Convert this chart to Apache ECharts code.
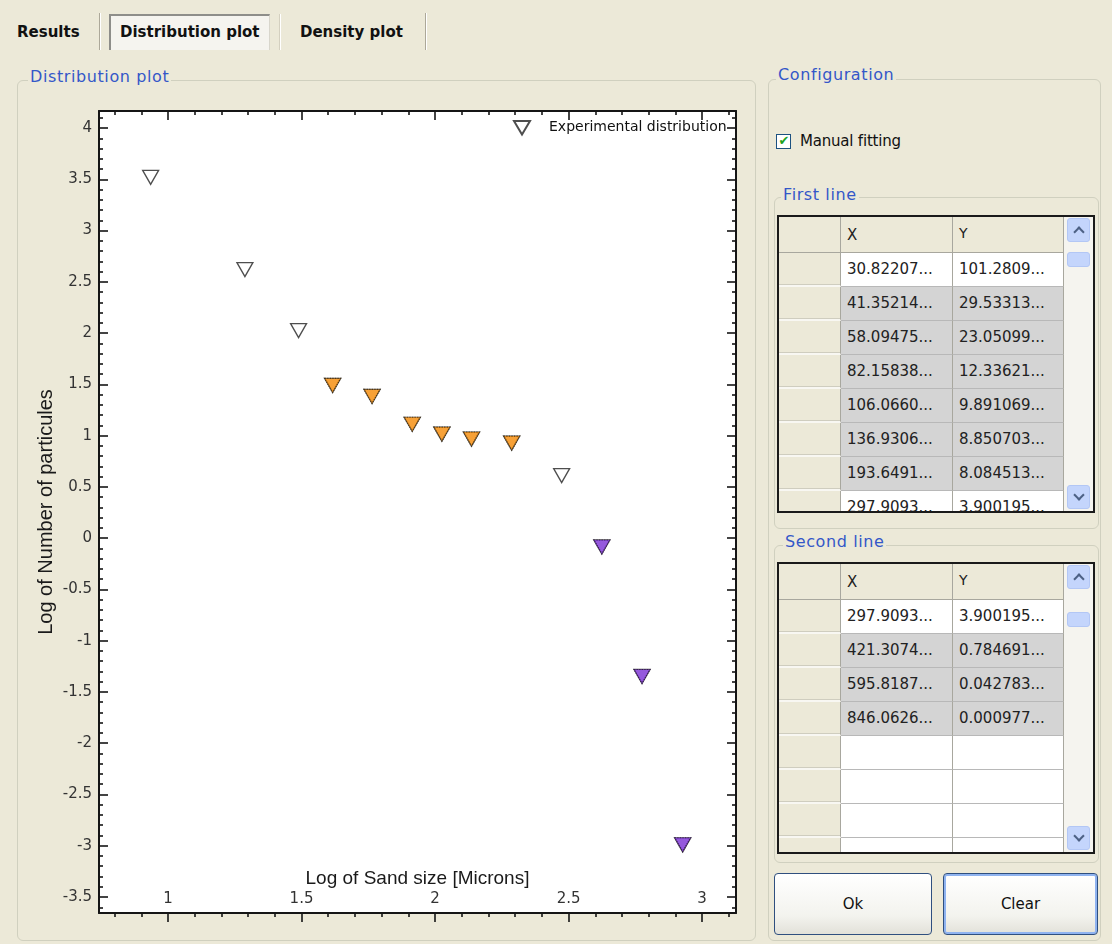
<!DOCTYPE html>
<html>
<head>
<meta charset="utf-8">
<script src="https://cdn.jsdelivr.net/npm/echarts@6/dist/echarts.min.js"></script>
<style>
  html, body { margin:0; padding:0; }
  body { width:1112px; height:944px; background:#ECE9D8; position:relative; overflow:hidden; font-family:"DejaVu Sans", sans-serif; }
  .abs { position:absolute; }
  .tab { position:absolute; font-weight:bold; font-size:15px; color:#111; line-height:20px; }
  .sep { position:absolute; width:1px; background:#ACA899; border-right:1px solid #fff; }
  .gbox { position:absolute; border:1px solid #D0D0BF; border-radius:6px; box-sizing:border-box; }
  .gtitle { position:absolute; background:#ECE9D8; color:#3457C8; font-size:16px; letter-spacing:0.6px; padding:0 2px; line-height:20px; white-space:nowrap; }
  .tbl { position:absolute; border:2px solid #1a1a1a; box-sizing:border-box; background:#fff; overflow:hidden; }
  .cell { position:absolute; box-sizing:border-box; font-size:15px; color:#222; padding-left:6px; white-space:nowrap; overflow:hidden; }
  .btn { position:absolute; box-sizing:border-box; border-radius:4px; background:linear-gradient(#FFFFFF, #F3F3EE 70%, #E2E1D9); font-size:15px; color:#111; text-align:center; }
  .sbtn { position:absolute; width:23px; height:24px; border-radius:3px; background:#C4D5FC; border:1px solid #B3C7F5; box-sizing:border-box; }
  .sbtn span { position:absolute; left:7px; width:6px; height:6px; border-left:2px solid #4D6185; border-top:2px solid #4D6185; }
  #chart { position:absolute; left:0; top:0; width:1112px; height:944px; }
</style>
</head>
<body>
<div id="ui"></div>
<div id="chart"></div>
<script>
// ---------------- data ----------------
const seriesNames = ['Experimental distribution', 'First line', 'Second line'];
// log10 of sand size (microns) and log10 of number of particles
const expLogSize  = [0.935, 1.288, 1.4889, 1.6165, 1.7641, 1.9146, 2.0256, 2.1365, 2.2870, 2.4741, 2.6246, 2.7751, 2.9274];
const expLogCount = [3.500, 2.600, 2.0055, 1.4703, 1.3627, 1.0912, 0.9952, 0.9470, 0.9077, 0.5911, -0.1053, -1.3687, -3.0101];
const firstLogSize  = [1.6165, 1.7641, 1.9146, 2.0256, 2.1365, 2.2870];
const firstLogCount = [1.4703, 1.3627, 1.0912, 0.9952, 0.9470, 0.9077];
const secondLogSize  = [2.6246, 2.7751, 2.9274];
const secondLogCount = [-0.1053, -1.3687, -3.0101];
const xTickValues = [1, 1.5, 2, 2.5, 3];
const yTickValues = [-3.5, -3, -2.5, -2, -1.5, -1, -0.5, 0, 0.5, 1, 1.5, 2, 2.5, 3, 3.5, 4];
const xAxisTitle = 'Log of Sand size [Microns]';
const yAxisTitle = 'Log of Number of particules';
// table contents
const firstLineX = ['30.82207...', '41.35214...', '58.09475...', '82.15838...', '106.0660...', '136.9306...', '193.6491...', '297.9093...'];
const firstLineY = ['101.2809...', '29.53313...', '23.05099...', '12.33621...', '9.891069...', '8.850703...', '8.084513...', '3.900195...'];
const secondLineX = ['297.9093...', '421.3074...', '595.8187...', '846.0626...', '', '', '', ''];
const secondLineY = ['3.900195...', '0.784691...', '0.042783...', '0.000977...', '', '', '', ''];
const tabLabels = ['Results', 'Distribution plot', 'Density plot'];

// ---------------- UI chrome ----------------
const ui = document.getElementById('ui');
function el(cls, style, text) {
  const d = document.createElement('div');
  if (cls) d.className = cls;
  Object.assign(d.style, style);
  if (text !== undefined) d.textContent = text;
  ui.appendChild(d);
  return d;
}
function px(v) { return v + 'px'; }

// tabs
el('sep', {left:'99px', top:'13px', height:'37px'});
el('abs', {left:'109px', top:'14px', width:'161px', height:'36px', background:'#F5F4EF', borderTop:'2px solid #8E8E8A', borderLeft:'2px solid #8E8E8A', borderRight:'1px solid #D8D6CC', boxSizing:'border-box'});
el('sep', {left:'279px', top:'14px', height:'36px', background:'#D4D0C0'});
el('sep', {left:'425px', top:'13px', height:'37px'});
el('tab', {left:'17px', top:'22px'}, tabLabels[0]);
el('tab', {left:'120px', top:'22px'}, tabLabels[1]);
el('tab', {left:'300px', top:'22px'}, tabLabels[2]);

// group boxes
el('gbox', {left:'17px', top:'80px', width:'739px', height:'861px'});
el('gtitle', {left:'28px', top:'67px'}, 'Distribution plot');
el('gbox', {left:'768px', top:'79px', width:'333px', height:'862px'});
el('gtitle', {left:'776px', top:'65px'}, 'Configuration');

// checkbox
el('abs', {left:'776px', top:'134px', width:'15px', height:'15px', border:'1px solid #1C5180', background:'#fff', boxSizing:'border-box'});
el('abs', {left:'777px', top:'131px', width:'14px', height:'18px', color:'#21A121', fontSize:'13px', lineHeight:'20px', textAlign:'center', fontWeight:'bold'}, '\u2714');
el('abs', {left:'800px', top:'131px', fontSize:'15px', color:'#111', lineHeight:'20px', letterSpacing:'-0.2px'}, 'Manual fitting');

// First line group
el('gbox', {left:'774px', top:'197px', width:'325px', height:'332px'});
el('gtitle', {left:'781px', top:'185px'}, 'First line');
// Second line group
el('gbox', {left:'774px', top:'545px', width:'325px', height:'318px'});
el('gtitle', {left:'783px', top:'532px'}, 'Second line');

function makeTable(top, bottom, xs, ys, whiteRows, thumbTop) {
  const L = 777;
  const t = el('tbl', {left:px(L), top:px(top), width:'318px', height:px(bottom - top)});
  const inner = (cls, style, text) => {
    const d = document.createElement('div');
    d.className = cls; Object.assign(d.style, style);
    if (text !== undefined) d.textContent = text;
    t.appendChild(d); return d;
  };
  const headH = 36, rowH = 34;
  inner('cell', {left:'0px', top:'0px', width:'62px', height:px(headH), background:'#ECE9D8', borderRight:'1px solid #A8A79E', borderBottom:'1px solid #A8A79E'});
  inner('cell', {left:'62px', top:'0px', width:'112px', height:px(headH), background:'#ECE9D8', borderRight:'1px solid #A8A79E', borderBottom:'1px solid #A8A79E', lineHeight:px(headH), fontSize:'15px'}, 'X');
  inner('cell', {left:'174px', top:'0px', width:'111px', height:px(headH), background:'#ECE9D8', borderRight:'1px solid #A8A79E', borderBottom:'1px solid #A8A79E', lineHeight:px(headH - 4), fontSize:'14px'}, 'Y');
  inner('cell', {left:'285px', top:'0px', width:'30px', height:px(bottom - top), background:'#F5F4EF'});
  const n = xs.length;
  for (let i = 0; i < n; i++) {
    const y = headH + i * rowH;
    const bg = whiteRows.indexOf(i) >= 0 ? '#FFFFFF' : '#D4D4D4';
    inner('cell', {left:'0px', top:px(y), width:'62px', height:px(rowH), background:'#ECE9D8', borderRight:'1px solid #A8A79E', borderBottom:'2px solid #F8F7F2', boxShadow:'inset 0 -3px 0 -2px #CFCDBF'});
    inner('cell', {left:'62px', top:px(y), width:'112px', height:px(rowH), background:bg, borderRight:'1px solid #A8A79E', borderBottom:'1px solid #B8B8B8', lineHeight:px(rowH - 1)}, xs[i]);
    inner('cell', {left:'174px', top:px(y), width:'111px', height:px(rowH), background:bg, borderRight:'1px solid #A8A79E', borderBottom:'1px solid #B8B8B8', lineHeight:px(rowH - 1)}, ys[i]);
  }
  const up = el('sbtn', {left:'1067px', top:px(top + 3)});
  const upc = document.createElement('span'); upc.style.top = '9px'; upc.style.transform = 'rotate(45deg)'; up.appendChild(upc);
  const dn = el('sbtn', {left:'1067px', top:px(bottom - 28)});
  const dnc = document.createElement('span'); dnc.style.top = '5px'; dnc.style.transform = 'rotate(225deg)'; dn.appendChild(dnc);
  el('sbtn', {left:'1067px', top:px(thumbTop), height:'15px'});
}
makeTable(215, 513, firstLineX, firstLineY, [0, 7], 252);
makeTable(562, 854, secondLineX, secondLineY, [0, 4, 5, 6, 7], 612);

// buttons
el('btn', {left:'774px', top:'873px', width:'158px', height:'62px', border:'1px solid #2F4F7F', lineHeight:'60px'}, 'Ok');
el('btn', {left:'943px', top:'873px', width:'155px', height:'62px', border:'1px solid #2F4F7F', boxShadow:'inset 0 0 0 2px #8FB3F0', lineHeight:'60px'}, 'Clear');

// ---------------- chart ----------------
function minorTicks(min, max, step, majors) {
  const out = [];
  const start = Math.ceil(min / step - 1e-9);
  const end = Math.floor(max / step + 1e-9);
  for (let k = start; k <= end; k++) {
    const v = Math.round(k * step * 1000) / 1000;
    if (majors.indexOf(v) < 0) out.push(v);
  }
  return out;
}
const xMin = 0.7416, xMax = 3.127, yMin = -3.656, yMax = 4.166;
const xMinor = minorTicks(xMin, xMax, 0.1, xTickValues);
const yMinor = minorTicks(yMin, yMax, 0.1, yTickValues);
const lineColor = '#151515';
const labelFont = 'Liberation Sans';
const tickLabelStyle = {fontFamily:'DejaVu Sans', fontSize:15, color:'#333'};

function xAxisDef(pos, values, len, inside, showLine, extra) {
  return Object.assign({
    type:'value', position:pos, min:xMin, max:xMax, gridIndex:0,
    axisLine:{show:showLine, onZero:false, lineStyle:{color:lineColor, width:2}},
    axisTick:{show:true, inside:inside, length:len, customValues:values, lineStyle:{color:lineColor, width:1.6}},
    axisLabel:{show:false},
    splitLine:{show:false}, minorTick:{show:false}, minorSplitLine:{show:false}
  }, extra || {});
}
function yAxisDef(pos, values, len, inside, showLine, extra) {
  return Object.assign({
    type:'value', position:pos, min:yMin, max:yMax, gridIndex:0,
    axisLine:{show:showLine, onZero:false, lineStyle:{color:lineColor, width:2}},
    axisTick:{show:true, inside:inside, length:len, customValues:values, lineStyle:{color:lineColor, width:1.6}},
    axisLabel:{show:false},
    splitLine:{show:false}, minorTick:{show:false}, minorSplitLine:{show:false}
  }, extra || {});
}

const triangle = 'path://M0,0L20,0L10,17Z';
const chart = echarts.init(document.getElementById('chart'), null, {renderer:'canvas'});
chart.setOption({
  backgroundColor:'transparent',
  animation:false,
  textStyle:{fontFamily:'DejaVu Sans'},
  grid:{left:99, top:111, width:637, height:802, show:true, backgroundColor:'#FFFFFF', borderWidth:0, containLabel:false, outerBoundsMode:'none'},
  legend:{
    data:[seriesNames[0]], left:508, top:115, itemWidth:16, itemHeight:14, selectedMode:false,
    textStyle:{fontFamily:'DejaVu Sans', fontSize:14, color:'#111', padding:[0,0,0,14]}
  },
  xAxis:[
    xAxisDef('bottom', xTickValues, 9, false, true, {
      axisLabel:Object.assign({show:true, inside:true, customValues:xTickValues, margin:6, formatter:v => String(v)}, tickLabelStyle),
      name:xAxisTitle, nameLocation:'middle', nameGap:-44, nameMoveOverlap:false,
      nameTextStyle:{fontFamily:labelFont, fontSize:19, color:'#1a1a1a'}
    }),
    xAxisDef('bottom', xMinor, 4, false, false),
    xAxisDef('top', xTickValues, 9, true, true),
    xAxisDef('top', xMinor, 4, true, false)
  ],
  yAxis:[
    yAxisDef('left', yTickValues, 9, true, true, {
      axisLabel:Object.assign({show:true, customValues:yTickValues, margin:7, formatter:v => String(v)}, tickLabelStyle),
      name:yAxisTitle, nameLocation:'middle', nameGap:43, nameMoveOverlap:false,
      nameTextStyle:{fontFamily:labelFont, fontSize:20, color:'#1a1a1a'}
    }),
    yAxisDef('left', yMinor, 4, true, false),
    yAxisDef('right', yTickValues, 9, true, true),
    yAxisDef('right', yMinor, 4, true, false)
  ],
  series:[
    {
      name:seriesNames[0], type:'scatter', xAxisIndex:0, yAxisIndex:0,
      data:expLogSize.map((x, i) => [x, expLogCount[i]]),
      symbol:triangle, symbolSize:[16, 14], symbolOffset:[0, -2],
      itemStyle:{color:'#FFFFFF', borderColor:'#222222', borderWidth:1.3},
      emphasis:{disabled:true}, z:2
    },
    {
      name:seriesNames[1], type:'scatter', xAxisIndex:0, yAxisIndex:0,
      data:firstLogSize.map((x, i) => [x, firstLogCount[i]]),
      symbol:triangle, symbolSize:[16, 14], symbolOffset:[0, -2],
      itemStyle:{color:'#F58A05', borderColor:'#3A2A12', borderWidth:1.2, borderType:'dotted'},
      emphasis:{disabled:true}, z:3
    },
    {
      name:seriesNames[2], type:'scatter', xAxisIndex:0, yAxisIndex:0,
      data:secondLogSize.map((x, i) => [x, secondLogCount[i]]),
      symbol:triangle, symbolSize:[16, 14], symbolOffset:[0, -2],
      itemStyle:{color:'#7A2FD4', borderColor:'#2A1244', borderWidth:1.2, borderType:'dotted'},
      emphasis:{disabled:true}, z:3
    }
  ]
});
</script>
</body>
</html>
